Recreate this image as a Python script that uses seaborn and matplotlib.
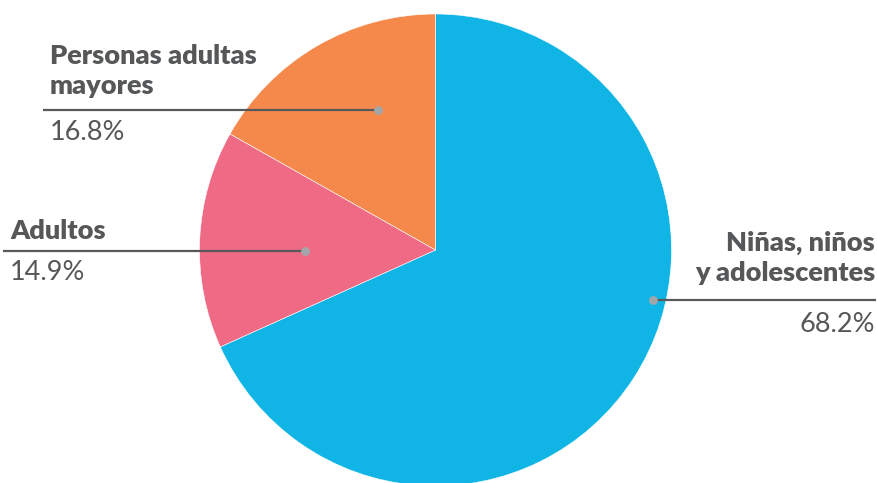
import matplotlib
matplotlib.use('Agg')
import matplotlib.pyplot as plt
import seaborn as sns

# data
categories = ['Niñas, niños\ny adolescentes', 'Adultos', 'Personas adultas\nmayores']
values = [68.2, 14.9, 16.8]
pct_labels = ['68.2%', '14.9%', '16.8%']
colors = ['#10b5e5', '#ef6a85', '#f5894c']

sns.set_theme(style='white')
plt.rcParams['font.family'] = ['Lato', 'DejaVu Sans']

W, H = 878, 483
fig = plt.figure(figsize=(W / 100, H / 100), dpi=100)
ax = fig.add_axes([0, 0, 1, 1])

cx, cy, r = 435.5, H - 250, 236
ax.pie(values, colors=sns.color_palette(colors), startangle=90, counterclock=False,
       center=(cx, cy), radius=r, wedgeprops=dict(edgecolor='white', linewidth=0.4))
ax.set_xlim(0, W)
ax.set_ylim(0, H)
ax.set_aspect('auto')
ax.axis('off')

txt = '#555759'
line_c = '#58595b'
dot_c = '#a3a6a9'

# annotation layout: (dot x, dot y, line end x, label x, label y, pct y, ha)
layout = [
    (653, 300, 876, 875, 258, 325, 'right'),
    (305, 251, 3, 10, 231, 273, 'left'),
    (378, 110, 43, 50, 71.5, 133, 'left'),
]
for cat, pct, (dx, dy, lx, tx, ty, py, ha) in zip(categories, pct_labels, layout):
    ax.plot([dx, lx], [H - dy, H - dy], color=line_c, lw=1.6, solid_capstyle='butt', zorder=3)
    ax.scatter([dx], [H - dy], s=40, color=dot_c, zorder=4, linewidths=0)
    ax.text(tx, H - ty, cat, ha=ha, va='center', fontsize=19.5, fontweight='heavy',
            color=txt, linespacing=1.3)
    ax.text(tx, H - py, pct, ha=ha, va='center', fontsize=19.5, fontweight='normal', color=txt)

fig.savefig('out.png', dpi=100)
